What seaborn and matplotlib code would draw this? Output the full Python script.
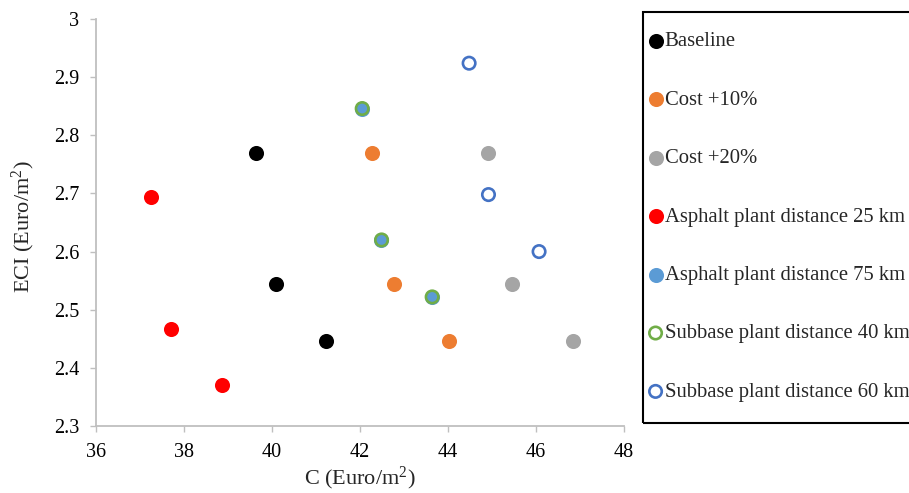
import matplotlib
matplotlib.use("Agg")
import matplotlib.pyplot as plt
from matplotlib.patches import Rectangle
import seaborn as sns
import pandas as pd

sns.set_style("white")
plt.rcParams['font.family'] = ['Liberation Serif', 'DejaVu Serif']
plt.rcParams['mathtext.fontset'] = 'custom'
plt.rcParams['mathtext.rm'] = 'Liberation Serif'
plt.rcParams['mathtext.it'] = 'Liberation Serif:italic'

series_names = ["Baseline", "Cost +10%", "Cost +20%", "Asphalt plant distance 25 km",
                "Asphalt plant distance 75 km", "Subbase plant distance 40 km",
                "Subbase plant distance 60 km"]
baseline_c = [39.64, 40.08, 41.23]
baseline_eci = [2.770, 2.544, 2.446]
cost10_c = [42.28, 42.77, 44.03]
cost10_eci = [2.770, 2.544, 2.446]
cost20_c = [44.92, 45.45, 46.83]
cost20_eci = [2.770, 2.544, 2.446]
asph25_c = [37.25, 37.70, 38.86]
asph25_eci = [2.693, 2.467, 2.370]
asph75_c = [42.04, 42.48, 43.63]
asph75_eci = [2.846, 2.620, 2.522]
sub40_c = [42.05, 42.49, 43.64]
sub40_eci = [2.846, 2.620, 2.522]
sub60_c = [44.48, 44.92, 46.07]
sub60_eci = [2.924, 2.698, 2.600]

x_ticks = [36, 38, 40, 42, 44, 46, 48]
y_ticks = [2.3, 2.4, 2.5, 2.6, 2.7, 2.8, 2.9, 3.0]
y_tick_labels = ["2.3", "2.4", "2.5", "2.6", "2.7", "2.8", "2.9", "3"]

fig = plt.figure(figsize=(9.09, 4.93), dpi=100)
ax = fig.add_axes([96/909, 1-426/493, (624-96)/909, (426-19)/493])

data = [(baseline_c, baseline_eci), (cost10_c, cost10_eci), (cost20_c, cost20_eci),
        (asph25_c, asph25_eci), (asph75_c, asph75_eci), (sub40_c, sub40_eci),
        (sub60_c, sub60_eci)]
styles = [
    dict(color="#000000", edgecolor="#000000"),
    dict(color="#ED7D31", edgecolor="#ED7D31"),
    dict(color="#A5A5A5", edgecolor="#A5A5A5"),
    dict(color="#FF0000", edgecolor="#FF0000"),
    dict(color="#5B9BD5", edgecolor="#5B9BD5"),
    dict(facecolor="none", edgecolor="#70AD47"),
    dict(facecolor="none", edgecolor="#4472C4"),
]
for name, (xs, ys), st in zip(series_names, data, styles):
    df = pd.DataFrame({"C": xs, "ECI": ys})
    sns.scatterplot(data=df, x="C", y="ECI", ax=ax, s=80, linewidth=1.9,
                    label=name, zorder=3, clip_on=False, **st)

ax.set_xlim(36, 48)
ax.set_ylim(2.3, 3.0)
ax.set_xticks(x_ticks)
ax.set_yticks(y_ticks)
ax.set_yticklabels(y_tick_labels)
ax.tick_params(axis='both', labelsize=14.5, direction='out', length=4, width=1,
               color='#BFBFBF', labelcolor='#000000', bottom=True, left=True, pad=8)
ax.set_xlabel("C (Euro/m$^2$)", fontsize=16, labelpad=2)
ax.set_ylabel("ECI (Euro/m$^2$)", fontsize=16)
ax.yaxis.set_label_coords(-0.111, 0.49)
for side in ['top', 'right']:
    ax.spines[side].set_visible(False)
for side in ['left', 'bottom']:
    ax.spines[side].set_color('#BFBFBF')
    ax.spines[side].set_linewidth(1.3)

h, l = ax.get_legend_handles_labels()
ax.get_legend().remove()

fig.patches.append(Rectangle((643/909, 1-423/493), 300/909, 411/493,
                             transform=fig.transFigure, facecolor='none',
                             edgecolor='#000000', linewidth=1.5))
leg = fig.legend(h, l, loc='upper left', bbox_to_anchor=(648/909, 1-32/493),
                 bbox_transform=fig.transFigure, fontsize=14.9, frameon=False,
                 labelspacing=1.88, borderpad=0, handletextpad=0.08,
                 handlelength=0.73, borderaxespad=0)

fig.savefig("out.png", dpi=100)
